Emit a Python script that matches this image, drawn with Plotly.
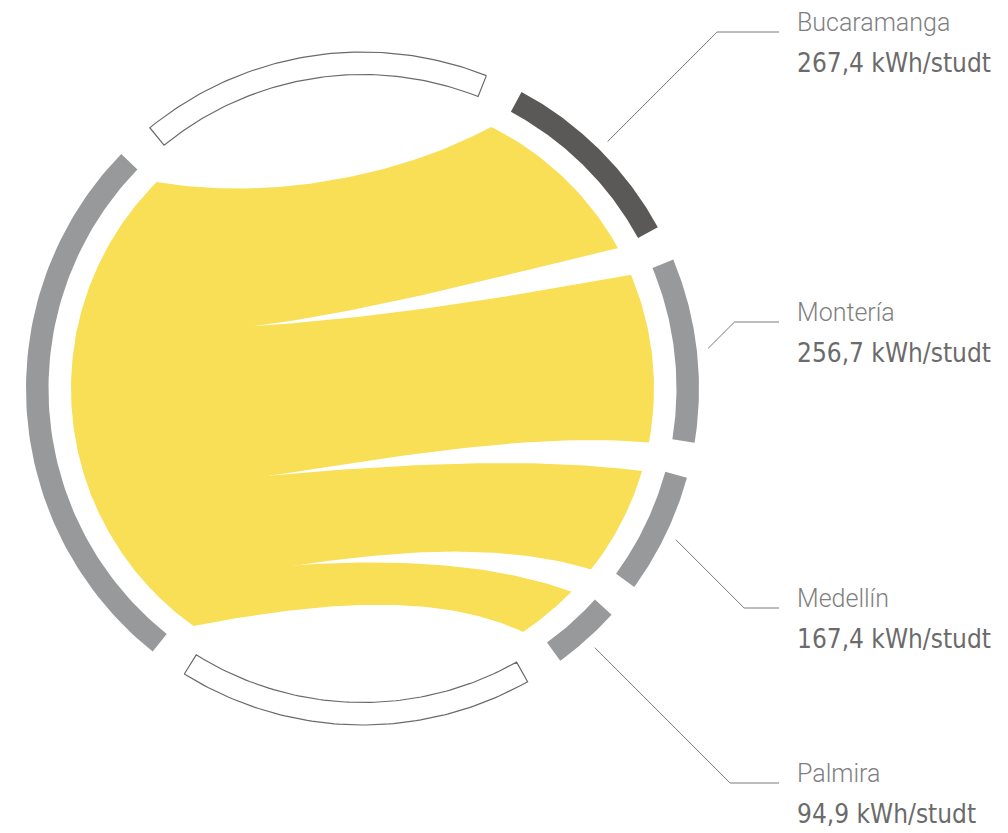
import numpy as np
import plotly.graph_objects as go

# data
cities = ["Bucaramanga", "Montería", "Medellín", "Palmira"]
kwh = [267.4, 256.7, 167.4, 94.9]
arc_colors = ["#5a5957", "#98999b", "#98999b", "#98999b"]
unit = "kWh/studt"
label_y = [32, 322, 608, 783]   # y of the horizontal part of each leader line

# geometry (screen pixels, y pointing down)
CX, CY = 362.5, 388.5
R_OUT, R_IN, R_RIB = 336.5, 314.0, 291.5
DEG_PER_KWH = 0.124
GAP = 6.1
RIGHT_START = 61.8
LEFT_START = 135.8
LEFT_DEG_PER_KWH = 0.1216
FRAME_GAP = 6.6

RIB_START = 63.8
RIB_DEG_PER_KWH = 0.131
RIB_GAP = 5.8
RIB_LEFT = (134.9, 234.6)
OVERLAP = 1.5
W1, W2, L1, L2 = 0.22, 0.45, 0.35, 0.30

YELLOW = "#f8df55"


def pt(r, ang):
    a = np.radians(ang)
    return np.array([CX + r * np.cos(a), CY - r * np.sin(a)])


def arc_pts(r, a0, a1, n=80):
    angs = np.linspace(a0, a1, n)
    return np.array([pt(r, a) for a in angs])


def band(a0, a1):
    outer = arc_pts(R_OUT, a0, a1)
    inner = arc_pts(R_IN, a1, a0)
    return np.vstack([outer, inner, outer[:1]])


def unit_vec(v):
    return v / np.linalg.norm(v)


def bez(P, Q, n=80):
    C = np.array([CX, CY])
    d = np.linalg.norm(Q - P)
    dir1 = unit_vec((1 - W1) * np.array([1.0, 0.0]) + W1 * unit_vec(C - P))
    dir2 = unit_vec((1 - W2) * np.array([-1.0, 0.0]) + W2 * unit_vec(C - Q))
    c1 = P + L1 * d * dir1
    c2 = Q + L2 * d * dir2
    t = np.linspace(0, 1, n)[:, None]
    return ((1 - t) ** 3) * P + 3 * t * (1 - t) ** 2 * c1 + 3 * t ** 2 * (1 - t) * c2 + t ** 3 * Q


def add_poly(p, fill, line=None):
    fig.add_trace(go.Scatter(x=p[:, 0], y=p[:, 1], mode="lines", fill="toself",
                             fillcolor=fill, line=line or dict(width=0), hoverinfo="skip"))


fig = go.Figure()

total = sum(kwh)

# right arcs
arcs = []
a = RIGHT_START
for v in kwh:
    span = v * DEG_PER_KWH
    arcs.append((a, a - span))
    a = a - span - GAP
right_end = arcs[-1][1]

left_end = LEFT_START + total * LEFT_DEG_PER_KWH

# ribbons
rib_right = []
a = RIB_START
for v in kwh:
    span = v * RIB_DEG_PER_KWH
    rib_right.append((a, a - span))
    a = a - span - RIB_GAP

cum = np.concatenate([[0], np.cumsum(kwh)]) / total
left_b = RIB_LEFT[0] + cum * (RIB_LEFT[1] - RIB_LEFT[0])

for i, v in enumerate(kwh):
    l0 = left_b[i] - (OVERLAP / 2 if i > 0 else 0)
    l1 = left_b[i + 1] + (OVERLAP / 2 if i < len(kwh) - 1 else 0)
    r0, r1 = rib_right[i]
    top = bez(pt(R_RIB, l0), pt(R_RIB, r0))
    right = arc_pts(R_RIB, r0, r1, 40)
    bottom = bez(pt(R_RIB, l1), pt(R_RIB, r1))[::-1]
    left = arc_pts(R_RIB, l1, l0, 60)
    add_poly(np.vstack([top, right, bottom, left]), YELLOW)

# left total arc
add_poly(band(LEFT_START, left_end), "#98999b")

# outlined frame arcs (top and bottom)
for a0, a1 in [(RIGHT_START + FRAME_GAP, LEFT_START - FRAME_GAP),
               (left_end + FRAME_GAP, 360 + right_end - FRAME_GAP)]:
    add_poly(band(a0, a1), "white", dict(width=1.2, color="#6a6a6a"))

# city arcs, leader lines, labels
for i, (name, v) in enumerate(zip(cities, kwh)):
    a0, a1 = arcs[i]
    add_poly(band(a0, a1), arc_colors[i])

    s = pt(348, (a0 + a1) / 2)
    ly = label_y[i]
    lx = [s[0], s[0] + abs(ly - s[1]), 779]
    fig.add_trace(go.Scatter(x=lx, y=[s[1], ly, ly], mode="lines",
                             line=dict(width=1, color="#7a7a7a"), hoverinfo="skip"))

    fig.add_annotation(x=795, y=ly - 10, xref="x", yref="y", text=name, showarrow=False,
                       xanchor="left", yanchor="middle",
                       font=dict(family="Roboto", size=25, weight=300, color="#7f7f7f"))
    val = f"{v:.1f}".replace(".", ",") + " " + unit
    fig.add_annotation(x=795, y=ly + 31, xref="x", yref="y", text=val, showarrow=False,
                       xanchor="left", yanchor="middle",
                       font=dict(family="DejaVu Sans Condensed, Liberation Sans Narrow, Roboto",
                                 size=26, color="#6b6b6b"))

fig.update_layout(
    width=1008, height=833,
    margin=dict(l=0, r=0, t=0, b=0),
    paper_bgcolor="white", plot_bgcolor="white",
    showlegend=False,
    xaxis=dict(range=[0, 1008], visible=False, fixedrange=True),
    yaxis=dict(range=[833, 0], visible=False, fixedrange=True),
)

# drop the default page margin so the figure fills the window
fig.write_html("out.html", config={"displayModeBar": False},
               post_script="document.body.style.margin='0';")
